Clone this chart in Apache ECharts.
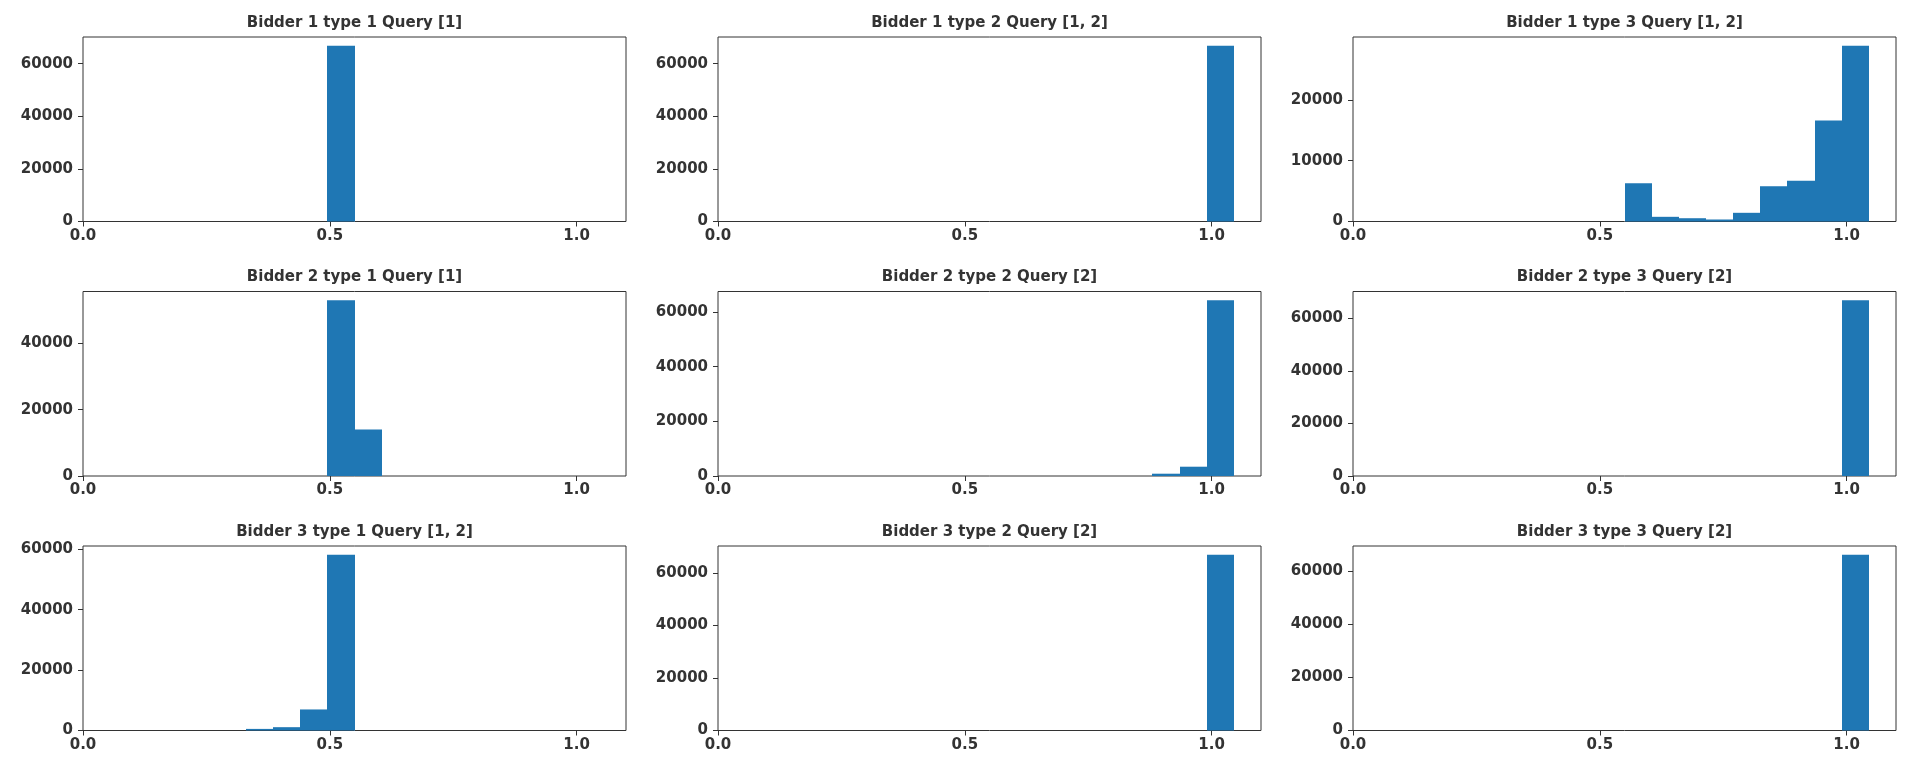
<!DOCTYPE html>
<html>
<head>
<meta charset="utf-8">
<title>Bidder query histograms</title>
<script src="https://cdn.jsdelivr.net/npm/echarts@6/dist/echarts.min.js"></script>
<style>
  html, body { margin: 0; padding: 0; background: #fff; }
  #chart { width: 1906px; height: 762px; }
</style>
</head>
<body>
<div id="chart"></div>
<script>
// Histogram bin edges (20 bins over [0, 1.1])
const binEdges = [0, 0.055, 0.11, 0.165, 0.22, 0.275, 0.33, 0.385, 0.44, 0.495, 0.55,
                  0.605, 0.66, 0.715, 0.77, 0.825, 0.88, 0.935, 0.99, 1.045, 1.1];

// Counts per bin for each bidder / type
const b1t1 = [0, 0, 0, 0, 0, 0, 0, 0, 0, 66800, 0, 0, 0, 0, 0, 0, 0, 0, 0, 0];
const b1t2 = [0, 0, 0, 0, 0, 0, 0, 0, 0, 0, 0, 0, 0, 0, 0, 0, 0, 0, 66800, 0];
const b1t3 = [0, 0, 0, 0, 0, 0, 0, 0, 0, 0, 6300, 770, 540, 330, 1430, 5800, 6690, 16600, 28900, 0];
const b2t1 = [0, 0, 0, 0, 0, 0, 0, 0, 0, 53000, 14000, 0, 0, 0, 0, 0, 0, 0, 0, 0];
const b2t2 = [0, 0, 0, 0, 0, 0, 0, 0, 0, 0, 0, 0, 0, 0, 0, 0, 840, 3400, 64300, 0];
const b2t3 = [0, 0, 0, 0, 0, 0, 0, 0, 0, 0, 0, 0, 0, 0, 0, 0, 0, 0, 66800, 0];
const b3t1 = [0, 0, 0, 0, 0, 0, 530, 1100, 6970, 58200, 0, 0, 0, 0, 0, 0, 0, 0, 0, 0];
const b3t2 = [0, 0, 0, 0, 0, 0, 0, 0, 0, 0, 0, 0, 0, 0, 0, 0, 0, 0, 66900, 0];
const b3t3 = [0, 0, 0, 0, 0, 0, 0, 0, 0, 0, 0, 0, 0, 0, 0, 0, 0, 0, 66100, 0];

// Subplot titles
const titles = [
  'Bidder 1 type 1 Query [1]', 'Bidder 1 type 2 Query [1, 2]', 'Bidder 1 type 3 Query [1, 2]',
  'Bidder 2 type 1 Query [1]', 'Bidder 2 type 2 Query [2]',    'Bidder 2 type 3 Query [2]',
  'Bidder 3 type 1 Query [1, 2]', 'Bidder 3 type 2 Query [2]', 'Bidder 3 type 3 Query [2]'
];

// Tick values
const xTicks = [0, 0.5, 1.0];
const yTicksLarge = [0, 20000, 40000, 60000];
const yTicksMid = [0, 20000, 40000];
const yTicksSmall = [0, 10000, 20000];

const panels = [
  { counts: b1t1, yTicks: yTicksLarge },
  { counts: b1t2, yTicks: yTicksLarge },
  { counts: b1t3, yTicks: yTicksSmall },
  { counts: b2t1, yTicks: yTicksMid },
  { counts: b2t2, yTicks: yTicksLarge },
  { counts: b2t3, yTicks: yTicksLarge },
  { counts: b3t1, yTicks: yTicksLarge },
  { counts: b3t2, yTicks: yTicksLarge },
  { counts: b3t3, yTicks: yTicksLarge }
];

// Layout of the 3x3 grid of axes (pixels)
const colLeft = [83, 718, 1353];
const rowTop = [37, 291.5, 546];
const boxW = 543;
const boxH = 184.5;

const FONT = 'DejaVu Sans';
const INK = '#333';
const BAR = '#1f77b4';

const grids = [], xAxes = [], yAxes = [], series = [], graphics = [];

panels.forEach((p, i) => {
  const col = i % 3, row = Math.floor(i / 3);
  grids.push({
    left: colLeft[col], top: rowTop[row], width: boxW, height: boxH,
    show: true, borderColor: INK, borderWidth: 1, backgroundColor: 'transparent',
    containLabel: false
  });
  xAxes.push({
    type: 'value', gridIndex: i, min: 0, max: 1.1,
    axisLine: { show: false },
    axisTick: { show: true, length: 5, customValues: xTicks, lineStyle: { color: INK, width: 1 } },
    axisLabel: {
      customValues: xTicks, margin: 7, color: INK,
      fontFamily: FONT, fontWeight: 'bold', fontSize: 15,
      formatter: v => Number(v).toFixed(1)
    },
    splitLine: { show: false }
  });
  // autoscale top with a 5% margin above the tallest bin
  const maxCount = Math.max.apply(null, p.counts);
  yAxes.push({
    type: 'value', gridIndex: i, min: 0, max: maxCount * 1.05,
    axisLine: { show: false },
    axisTick: { show: true, length: 5, customValues: p.yTicks, lineStyle: { color: INK, width: 1 } },
    axisLabel: {
      customValues: p.yTicks, margin: 10, color: INK,
      fontFamily: FONT, fontWeight: 'bold', fontSize: 15,
      formatter: v => String(Math.round(v))
    },
    splitLine: { show: false }
  });

  const data = [];
  p.counts.forEach((c, k) => {
    if (c > 0) data.push([binEdges[k], binEdges[k + 1], c]);
  });
  series.push({
    type: 'custom', xAxisIndex: i, yAxisIndex: i,
    itemStyle: { color: BAR },
    encode: { x: [0, 1], y: 2 },
    renderItem: (params, api) => {
      const topLeft = api.coord([api.value(0), api.value(2)]);
      const bottomRight = api.coord([api.value(1), 0]);
      // snap bin edges to whole pixels so neighbouring bins meet without seams
      const x0 = Math.round(topLeft[0]);
      const x1 = Math.round(bottomRight[0]);
      return {
        type: 'rect',
        shape: {
          x: x0, y: topLeft[1],
          width: x1 - x0,
          height: bottomRight[1] - topLeft[1]
        },
        style: { fill: api.visual('color') }
      };
    },
    data: data
  });

  graphics.push({
    type: 'text',
    x: colLeft[col] + boxW / 2,
    y: rowTop[row] - 14,
    style: {
      text: titles[i], fill: INK,
      font: 'bold 15px "DejaVu Sans"',
      textAlign: 'center', textVerticalAlign: 'middle'
    }
  });
});

const chart = echarts.init(document.getElementById('chart'), null, { renderer: 'canvas' });
chart.setOption({
  animation: false,
  backgroundColor: '#fff',
  grid: grids,
  xAxis: xAxes,
  yAxis: yAxes,
  series: series,
  graphic: graphics
});
</script>
</body>
</html>
